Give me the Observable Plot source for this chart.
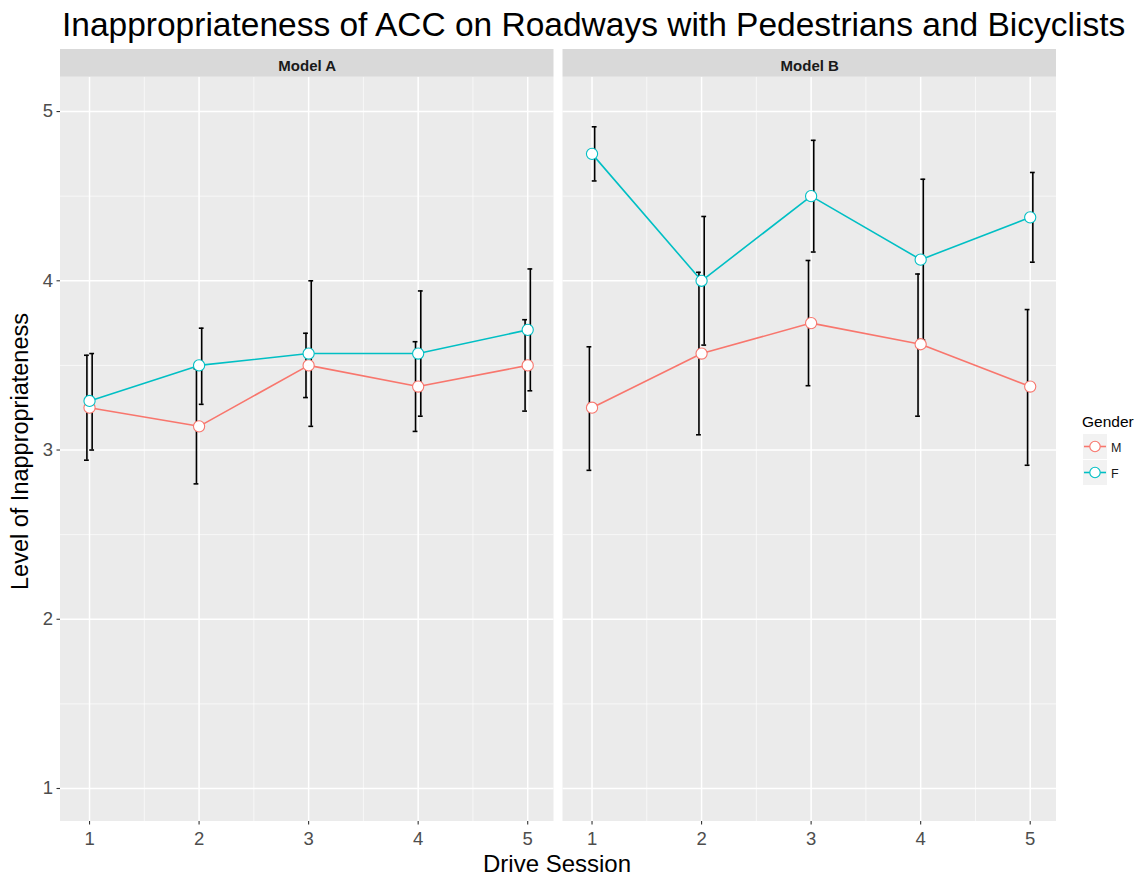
<!DOCTYPE html>
<html>
<head>
<meta charset="utf-8">
<script src="https://cdn.jsdelivr.net/npm/d3@7"></script>
<script src="https://cdn.jsdelivr.net/npm/@observablehq/plot@0.6"></script>
<style>
  html, body { margin: 0; padding: 0; background: #ffffff; }
  #wrap { position: relative; width: 1141px; height: 877px; overflow: hidden; font-family: "Liberation Sans", Arial, sans-serif; }
  #wrap > svg { position: absolute; left: 0; top: 0; }
  #overlay { pointer-events: none; }
</style>
</head>
<body>
<div id="wrap"></div>
<script>
// ---- data ----
const sessions = [1, 2, 3, 4, 5];
const models = ["Model A", "Model B"];
const genders = ["M", "F"];
const genderColors = ["#F8766D", "#00BFC4"];

const meanAM = [3.25, 3.14, 3.50, 3.375, 3.50];
const loAM   = [2.94, 2.80, 3.31, 3.11, 3.23];
const hiAM   = [3.56, 3.48, 3.69, 3.64, 3.77];

const meanAF = [3.29, 3.50, 3.57, 3.57, 3.71];
const loAF   = [3.00, 3.27, 3.14, 3.20, 3.35];
const hiAF   = [3.57, 3.72, 4.00, 3.94, 4.07];

const meanBM = [3.25, 3.57, 3.75, 3.625, 3.375];
const loBM   = [2.88, 3.09, 3.38, 3.20, 2.91];
const hiBM   = [3.61, 4.05, 4.12, 4.04, 3.83];

const meanBF = [4.75, 4.00, 4.50, 4.125, 4.375];
const loBF   = [4.59, 3.62, 4.17, 3.65, 4.11];
const hiBF   = [4.91, 4.38, 4.83, 4.60, 4.64];

const yTicks = [1, 2, 3, 4, 5];
const yMinor = [1.5, 2.5, 3.5, 4.5];
const xMinor = [1.5, 2.5, 3.5, 4.5];

const title = "Inappropriateness of ACC on Roadways with Pedestrians and Bicyclists";
const xTitle = "Drive Session";
const yTitle = "Level of Inappropriateness";
const legendTitle = "Gender";

// ---- build table ----
const series = [
  ["Model A", "M", meanAM, loAM, hiAM],
  ["Model A", "F", meanAF, loAF, hiAF],
  ["Model B", "M", meanBM, loBM, hiBM],
  ["Model B", "F", meanBF, loBF, hiBF]
];
const rows = [];
for (const [model, gender, m, lo, hi] of series) {
  sessions.forEach((s, i) => rows.push({model, gender, session: s, mean: m[i], lo: lo[i], hi: hi[i]}));
}

const xDom = [0.735, 5.24];
const yDom = [0.805, 5.203];
const stripTop = 5.3667;
const dodgeOf = g => (g === "M" ? -0.024 : 0.024);
const capHalf = 0.022;
const xcenter = (xDom[0] + xDom[1]) / 2;

const chart = Plot.plot({
  width: 1141,
  height: 877,
  marginLeft: 60,
  marginRight: 85,
  marginTop: 76.7,
  marginBottom: 56,
  style: {background: "transparent", fontFamily: "'Liberation Sans', Arial, sans-serif", overflow: "visible"},
  fx: {domain: models, paddingInner: 9 / 502.5, paddingOuter: 0, round: false, axis: null, label: null},
  x: {domain: xDom, label: null},
  y: {domain: yDom, label: null},
  color: {domain: genders, range: genderColors},
  marks: [
    // panel background
    Plot.rect([0], {x1: xDom[0], x2: xDom[1], y1: yDom[0], y2: yDom[1], fill: "#ebebeb"}),
    // minor grid
    Plot.ruleY(yMinor, {stroke: "#ffffff", strokeWidth: 0.75, strokeOpacity: 0.85}),
    Plot.ruleX(xMinor, {stroke: "#ffffff", strokeWidth: 0.75, strokeOpacity: 0.85}),
    // major grid
    Plot.ruleY(yTicks, {stroke: "#ffffff", strokeWidth: 1.5}),
    Plot.ruleX(sessions, {stroke: "#ffffff", strokeWidth: 1.5}),
    // strips
    Plot.rect([0], {x1: xDom[0], x2: xDom[1], y1: yDom[1], y2: stripTop, fill: "#d9d9d9"}),
    Plot.text(models, {fx: d => d, x: xcenter, y: 5.2706, text: d => d, fontWeight: "bold", fontSize: 15, fill: "#1a1a1a"}),
    // axes
    Plot.axisY({ticks: yTicks, tickSize: 3.5, tickPadding: 4, fontSize: 18.5, fill: "#4d4d4d", stroke: "#333333", strokeWidth: 1.1, label: null, tickFormat: d => String(d)}),
    Plot.axisX({ticks: sessions, tickSize: 3.5, tickPadding: 7, fontSize: 18.5, fill: "#4d4d4d", stroke: "#333333", strokeWidth: 1.1, label: null, tickFormat: d => String(d)}),
    // error bars
    Plot.ruleX(rows, {fx: "model", x: d => d.session + dodgeOf(d.gender), y1: "lo", y2: "hi", stroke: "#000000", strokeWidth: 1.6}),
    Plot.ruleY(rows, {fx: "model", y: "lo", x1: d => d.session + dodgeOf(d.gender) - capHalf, x2: d => d.session + dodgeOf(d.gender) + capHalf, stroke: "#000000", strokeWidth: 1.6}),
    Plot.ruleY(rows, {fx: "model", y: "hi", x1: d => d.session + dodgeOf(d.gender) - capHalf, x2: d => d.session + dodgeOf(d.gender) + capHalf, stroke: "#000000", strokeWidth: 1.6}),
    // lines & points
    Plot.line(rows, {fx: "model", x: "session", y: "mean", z: "gender", stroke: "gender", strokeWidth: 1.6}),
    Plot.dot(rows, {fx: "model", x: "session", y: "mean", stroke: "gender", fill: "#ffffff", r: 5.6, strokeWidth: 1.1})
  ]
});

const wrap = document.getElementById("wrap");
wrap.appendChild(chart);

// ---- overlay: title, axis titles, legend ----
const ov = d3.select(wrap).append("svg")
  .attr("id", "overlay")
  .attr("width", 1141).attr("height", 877)
  .style("font-family", "'Liberation Sans', Arial, sans-serif");

ov.append("text").attr("x", 62).attr("y", 36).attr("font-size", 33.5).attr("fill", "#000").text(title);
ov.append("text").attr("x", 557).attr("y", 872).attr("text-anchor", "middle").attr("font-size", 24).attr("fill", "#000").text(xTitle);
ov.append("text").attr("transform", "translate(28,451.5) rotate(-90)").attr("text-anchor", "middle").attr("font-size", 23.5).attr("fill", "#000").text(yTitle);

ov.append("text").attr("x", 1082).attr("y", 427).attr("font-size", 15.5).attr("fill", "#000").text(legendTitle);
genders.forEach((g, i) => {
  const top = 434 + i * 26;
  const cy = top + 12.5;
  ov.append("rect").attr("x", 1083).attr("y", top).attr("width", 24).attr("height", 25).attr("fill", "#f2f2f2");
  ov.append("line").attr("x1", 1084).attr("x2", 1106).attr("y1", cy).attr("y2", cy).attr("stroke", genderColors[i]).attr("stroke-width", 1.6);
  ov.append("circle").attr("cx", 1095).attr("cy", cy).attr("r", 5.2).attr("fill", "#fff").attr("stroke", genderColors[i]).attr("stroke-width", 1.1);
  ov.append("text").attr("x", 1111).attr("y", cy + 5.5).attr("font-size", 12.5).attr("fill", "#1a1a1a").text(g);
});
</script>
</body>
</html>
